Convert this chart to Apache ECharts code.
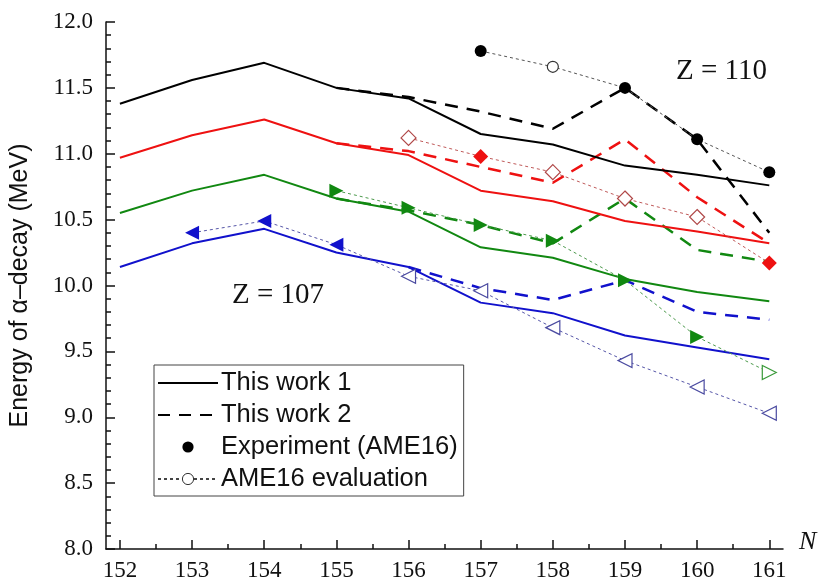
<!DOCTYPE html>
<html>
<head>
<meta charset="utf-8">
<script src="https://cdn.jsdelivr.net/npm/echarts@6/dist/echarts.min.js"></script>
<style>html,body{margin:0;padding:0;background:#fff;}#c{width:823px;height:585px;}</style>
</head>
<body>
<div id="c"></div>
<script>
// Neutron numbers
const N = [152, 153, 154, 155, 156, 157, 158, 159, 160, 161];
const xTicks = [152, 153, 154, 155, 156, 157, 158, 159, 160, 161];
const xMinorTicks = [152.5, 153.5, 154.5, 155.5, 156.5, 157.5, 158.5, 159.5, 160.5];

// Z = 110 (black)
const w1_110 = [11.38, 11.56, 11.69, 11.50, 11.42, 11.15, 11.07, 10.91, 10.84, 10.76];
const w2_110 = [null, null, null, 11.50, 11.43, 11.32, 11.19, 11.50, 11.11, 10.40];
const exp_110 = [null, null, null, null, null, 11.78, null, 11.50, 11.11, 10.86];
const eval_110 = [null, null, null, null, null, null, 11.66, null, null, null];

// Z = 109 (red)
const w1_109 = [10.97, 11.14, 11.26, 11.08, 10.99, 10.72, 10.64, 10.49, 10.41, 10.32];
const w2_109 = [null, null, null, 11.08, 11.02, 10.90, 10.78, 11.11, 10.67, 10.32];
const exp_109 = [null, null, null, null, null, 10.98, null, null, null, 10.17];
const eval_109 = [null, null, null, null, 11.12, null, 10.86, 10.66, 10.52, null];

// Z = 108 (green)
const w1_108 = [10.55, 10.72, 10.84, 10.66, 10.56, 10.29, 10.21, 10.05, 9.95, 9.88];
const w2_108 = [null, null, null, 10.66, 10.57, 10.46, 10.32, 10.66, 10.27, 10.18];
const exp_108 = [null, null, null, 10.72, 10.59, 10.46, 10.34, 10.04, 9.61, null];
const eval_108 = [null, null, null, null, null, null, null, null, null, 9.34];

// Z = 107 (blue)
const w1_107 = [10.14, 10.32, 10.43, 10.25, 10.14, 9.87, 9.79, 9.62, 9.53, 9.44];
const w2_107 = [null, null, null, null, 10.14, 9.98, 9.89, 10.04, 9.80, 9.74];
const exp_107 = [null, 10.40, 10.49, 10.31, null, null, null, null, null, null];
const eval_107 = [null, null, null, null, 10.07, 9.96, 9.68, 9.43, 9.23, 9.03];

const SANS = 'Liberation Sans';

const groups = [
  {w1: w1_110, w2: w2_110, exp: exp_110, ev: eval_110, color: '#000000', dot: '#555555', open: '#333333', symbol: 'circle', rot: 0, size: 12, osize: 11},
  {w1: w1_109, w2: w2_109, exp: exp_109, ev: eval_109, color: '#ee1111', dot: '#c05a5a', open: '#b04848', symbol: 'diamond', rot: 0, size: 15, osize: 15},
  {w1: w1_108, w2: w2_108, exp: exp_108, ev: eval_108, color: '#118811', dot: '#4c9a4c', open: '#3a9a3a', symbol: 'triangle', rot: -90, size: 14, osize: 14},
  {w1: w1_107, w2: w2_107, exp: exp_107, ev: eval_107, color: '#1111cc', dot: '#5656a8', open: '#4a4aa0', symbol: 'triangle', rot: 90, size: 14, osize: 14}
];

function pairs(arr) {
  const out = [];
  arr.forEach((v, i) => { if (v !== null) out.push([N[i], v]); });
  return out;
}

const series = [];
groups.forEach(g => {
  series.push({
    type: 'line', data: pairs(g.w1), symbol: 'none', z: 3,
    lineStyle: {color: g.color, width: 2}
  });
  series.push({
    type: 'line', data: pairs(g.w2), symbol: 'none', z: 2,
    lineStyle: {color: g.color, width: 2.5, type: [13, 9]}
  });
  const pts = [];
  N.forEach((n, i) => {
    if (g.exp[i] !== null) {
      pts.push({value: [n, g.exp[i]], symbol: g.symbol, symbolSize: g.size, symbolRotate: g.rot,
        itemStyle: {color: g.color, borderColor: g.color, borderWidth: 0}});
    } else if (g.ev[i] !== null) {
      pts.push({value: [n, g.ev[i]], symbol: g.symbol, symbolSize: g.osize, symbolRotate: g.rot,
        itemStyle: {color: '#ffffff', borderColor: g.open, borderWidth: 1.2}});
    }
  });
  series.push({
    type: 'line', data: pts, showSymbol: true, z: 4,
    lineStyle: {color: g.dot, width: 1, type: [3, 3]}
  });
});

// legend-only series
series.push({name: 'This work 1', type: 'line', data: [], symbol: 'none', color: '#000', lineStyle: {color: '#000', width: 2}});
series.push({name: 'This work 2', type: 'line', data: [], symbol: 'none', color: '#000', lineStyle: {color: '#000', width: 2.5, type: [12, 9]}});
series.push({name: 'Experiment (AME16)', type: 'line', data: [], symbol: 'circle', color: '#000', itemStyle: {color: '#000'}, lineStyle: {opacity: 0, width: 0}});
series.push({name: 'AME16 evaluation', type: 'line', data: [], symbol: 'circle', color: '#000', itemStyle: {color: '#fff', borderColor: '#333', borderWidth: 1}, lineStyle: {color: '#444', width: 1, type: [3, 3]}});

const chart = echarts.init(document.getElementById('c'), null, {renderer: 'canvas'});
chart.setOption({
  animation: false,
  backgroundColor: '#fff',
  grid: {left: 101.5, right: 40, top: 22, bottom: 36, containLabel: false},
  legend: {
    left: 154, top: 365, orient: 'vertical', selectedMode: false,
    itemWidth: 60, itemHeight: 14, itemGap: 6,
    padding: [5, 6, 4, 3], borderColor: '#444', borderWidth: 1,
    textStyle: {fontFamily: SANS, fontSize: 25.5, color: '#111', padding: [0, 0, 0, -2]},
    data: [
      {name: 'This work 1', itemStyle: {opacity: 0}},
      {name: 'This work 2', itemStyle: {opacity: 0}},
      {name: 'Experiment (AME16)', itemStyle: {color: '#000'}, lineStyle: {opacity: 0}},
      {name: 'AME16 evaluation', itemStyle: {color: '#fff', borderColor: '#333', borderWidth: 1}}
    ]
  },
  xAxis: [
    {
      type: 'value', min: 151.807, max: 161.19,
      axisLine: {show: true, lineStyle: {color: '#111', width: 1.5}},
      axisTick: {show: true, inside: true, length: 9, customValues: xTicks, lineStyle: {color: '#111', width: 1.5}},
      axisLabel: {customValues: xTicks, margin: 10, fontFamily: 'Times New Roman', fontSize: 23, color: '#111'},
      splitLine: {show: false}
    },
    {
      type: 'value', min: 151.807, max: 161.19, position: 'bottom',
      axisLine: {show: false},
      axisTick: {show: true, inside: true, length: 5, customValues: xMinorTicks, lineStyle: {color: '#111', width: 1.5}},
      axisLabel: {show: false},
      splitLine: {show: false}
    }
  ],
  yAxis: {
    type: 'value', min: 8, max: 12, interval: 0.5,
    name: 'Energy of \u03b1\u2013decay (MeV)', nameLocation: 'middle', nameGap: 73,
    nameTextStyle: {fontFamily: SANS, fontSize: 25, color: '#111'},
    axisLine: {show: true, lineStyle: {color: '#111', width: 1.5}},
    axisTick: {show: true, inside: true, length: 9, lineStyle: {color: '#111', width: 1.5}},
    minorTick: {show: true, splitNumber: 5, length: 5, lineStyle: {color: '#111', width: 1.5}},
    axisLabel: {margin: 13, fontFamily: 'serif', fontSize: 23, color: '#111',
      formatter: v => v.toFixed(1)},
    splitLine: {show: false}
  },
  graphic: [
    {type: 'text', left: 676, top: 57, style: {text: 'Z = 110', font: '29px "Liberation Serif"', fill: '#111'}},
    {type: 'text', left: 232, top: 281, style: {text: 'Z = 107', fontFamily: 'Liberation Serif', fontSize: 29, fill: '#111'}},
    {type: 'text', left: 799, top: 529, style: {text: 'N', font: 'italic 26px "Liberation Serif"', fill: '#111'}}
  ],
  series: series
});
</script>
</body>
</html>
